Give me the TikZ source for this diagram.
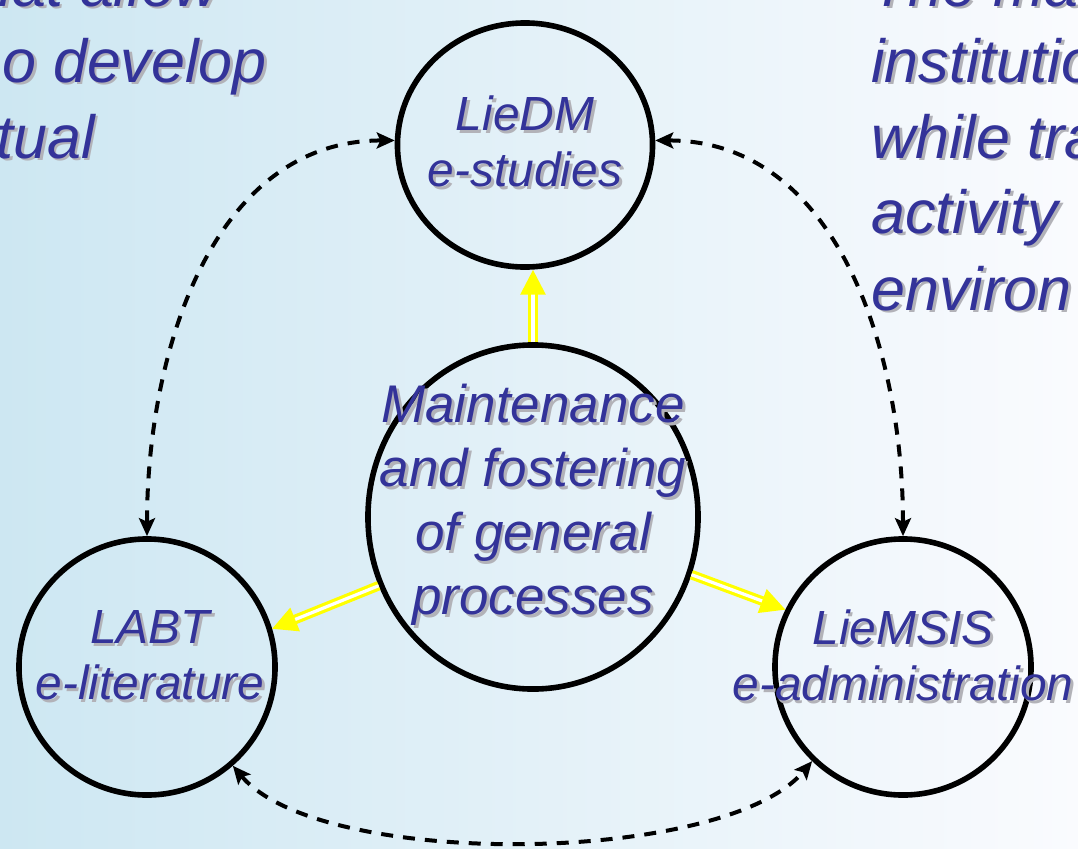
\documentclass[tikz,border=0pt]{standalone}
\usepackage{fontspec}
\setmainfont{Liberation Sans}
\usetikzlibrary{arrows.meta,shapes.geometric}

\definecolor{TextColor}{RGB}{51,51,153}
\definecolor{ShadowColor}{RGB}{178,178,184}
\definecolor{BgLeft}{RGB}{205,231,242}
\definecolor{BgMid}{RGB}{236,245,249}
\definecolor{BgRight}{RGB}{250,251,254}
\definecolor{FlowColor}{RGB}{255,255,0}

\newcommand\shadowtxt[1]{\makebox[0pt][l]{\hspace{2pt}\raisebox{-2pt}{\color{ShadowColor}#1}}#1}

\tikzset{
	unit/.style={ellipse, draw, line width=0.14cm, inner sep=0pt},
	caption/.style={align=center, inner sep=0pt, text=TextColor, font=\itshape\fontsize{34.1}{39.8}\selectfont},
	corner/.style={anchor=base west, inner sep=0pt, text=TextColor, font=\itshape\fontsize{43.4}{54}\selectfont},
	dashlink/.style={line width=0.1cm, dash pattern=on 0.3cm off 0.25cm, {Stealth[length=0.45cm,width=0.4cm,inset=0.09cm]}-{Stealth[length=0.45cm,width=0.4cm,inset=0.09cm]}},
	flow/.style={draw=FlowColor, double=white, line width=0.08cm, double distance=0.08cm, -{Triangle[length=0.62cm,width=0.62cm]}}
}

\begin{document}
\begin{tikzpicture}[x=0.025cm,y=-0.025cm]
	\useasboundingbox (0,0) rectangle (1078,848);
	\clip (0,0) rectangle (1078,848);
	\shade [left color=BgLeft, middle color=BgMid, right color=BgRight] (0,0) rectangle (1078,848);

	% side texts
	\node [corner] (tl1) at (-22,6) {\shadowtxt{hat allow}};
	\node [corner] (tl2) at (2,82) {\shadowtxt{o develop}};
	\node [corner] (tl3) at (-4,158) {\shadowtxt{tual}};
	\node [corner] (tr1) at (871,6) {\shadowtxt{The ma}};
	\node [corner] (tr2) at (871,82) {\shadowtxt{institutio}};
	\node [corner] (tr3) at (871,158) {\shadowtxt{while tra}};
	\node [corner] (tr4) at (871,233) {\shadowtxt{activity}};
	\node [corner] (tr5) at (871,310) {\shadowtxt{environ}};

	% circles
	\node [unit, minimum width=6.375cm, minimum height=6.1cm] (liedm) at (525,145) {};
	\node [unit, minimum width=8.25cm, minimum height=8.6cm] (centre) at (533,517) {};
	\node [unit, minimum width=6.4cm, minimum height=6.4cm] (labt) at (147,667) {};
	\node [unit, minimum width=6.4cm, minimum height=6.4cm] (liemsis) at (903,667) {};

	\node [caption] (liedmtxt) at (525,143) {\shadowtxt{LieDM}\\\shadowtxt{e-studies}};
	\node [caption, font=\itshape\fontsize{37.7}{45.5}\selectfont] (centretxt) at (533,506) {\shadowtxt{Maintenance}\\\shadowtxt{and fostering}\\\shadowtxt{of general}\\\shadowtxt{processes}};
	\node [caption] (labttxt) at (150,657) {\shadowtxt{LABT}\\\shadowtxt{e-literature}};
	\node [caption] (liemsistxt) at (903,657) {\shadowtxt{LieMSIS}\\\shadowtxt{e-administration}};

	% links
	\draw [dashlink] (liedm.178) to[out=180,in=90] (labt.north);
	\draw [dashlink] (liedm.2) to[out=0,in=90] (liemsis.north);
	\draw [dashlink] (labt.-49) to[out=-50,in=-130,looseness=0.6] (liemsis.-134);

	\draw [flow] (centre.north) -- (centre.north |- liedm.south);
	\draw [flow] (centre.204) -- (labt.17);
	\draw [flow] (centre.-20) -- (liemsis.154);
\end{tikzpicture}
\end{document}
